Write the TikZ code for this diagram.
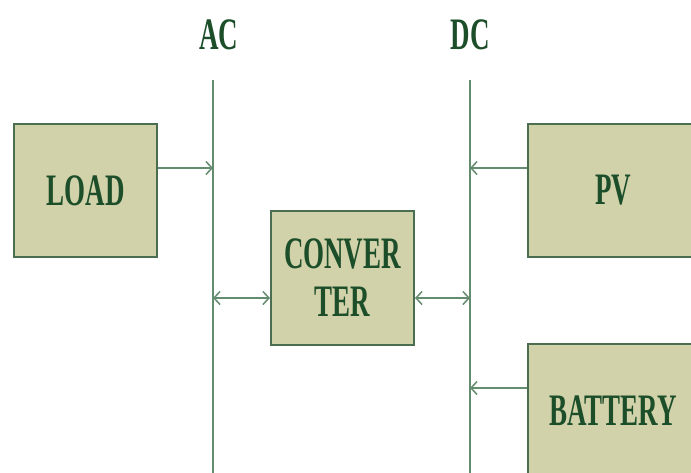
\documentclass[tikz,border=0pt]{standalone}
\usepackage{fontspec}
\newfontfamily\condfont[FakeStretch=0.6]{Liberation Serif}
\usetikzlibrary{arrows.meta}
\definecolor{boxfill}{RGB}{210,210,170}
\definecolor{boxdraw}{RGB}{75,110,80}
\definecolor{txtgreen}{RGB}{28,78,42}
\definecolor{linegreen}{RGB}{100,140,110}
\tikzset{
  blk/.style={rectangle, draw=boxdraw, line width=2pt, fill=boxfill, inner sep=0pt,
    font=\condfont\bfseries\fontsize{45}{50}\selectfont, text=txtgreen, align=center},
  bus/.style={draw=linegreen, line width=2.6pt},
  tip/.style={},
  conn/.style={draw=linegreen, line width=2.8pt, arrows={-Straight Barb[length=6pt,width=13pt,line width=1.5pt]}},
  dconn/.style={draw=linegreen, line width=2.8pt, arrows={Straight Barb[length=6pt,width=13pt,line width=1.5pt]-Straight Barb[length=6pt,width=13pt,line width=1.5pt]}},
  lbl/.style={font=\condfont\bfseries\fontsize{45}{50}\selectfont, text=txtgreen, inner sep=0pt}
}
\begin{document}
\begin{tikzpicture}[x=1pt,y=-1pt]
\useasboundingbox (0,0) rectangle (691,472);
\clip (0,0) rectangle (691,472);
\fill[white] (0,0) rectangle (691,472);
% buses
\coordinate (actop) at (213,80);
\coordinate (acbot) at (213,480);
\coordinate (dctop) at (470,80);
\coordinate (dcbot) at (470,480);
\draw[bus] (actop) -- (acbot);
\draw[bus] (dctop) -- (dcbot);
\node[lbl] (acl) at (219,35) {AC};
\node[lbl] (dcl) at (470,35) {DC};
% blocks
\node[blk, minimum width=143pt, minimum height=133pt] (load) at (85.5,190.5) {LOAD};
\node[blk, minimum width=143pt, minimum height=134pt] (conv) at (342.5,278) {CONVER\\[-2pt]TER};
\node[blk, minimum width=170pt, minimum height=133pt] (pv) at (613,190.5) {PV};
\node[blk, minimum width=170pt, minimum height=133pt] (bat) at (613,410.5) {BATTERY};
% connection points
\coordinate (acload) at (213,168);
\coordinate (acconv) at (213,298);
\coordinate (dcconv) at (470,298);
\coordinate (dcpv) at (470,168);
\coordinate (dcbat) at (470,388);
\draw[conn] (load.east |- acload) -- (acload);
\draw[dconn] (acconv) -- (conv.west |- acconv);
\draw[dconn] (conv.east |- dcconv) -- (dcconv);
\draw[conn] (pv.west |- dcpv) -- (dcpv);
\draw[conn] (bat.west |- dcbat) -- (dcbat);
\end{tikzpicture}
\end{document}
